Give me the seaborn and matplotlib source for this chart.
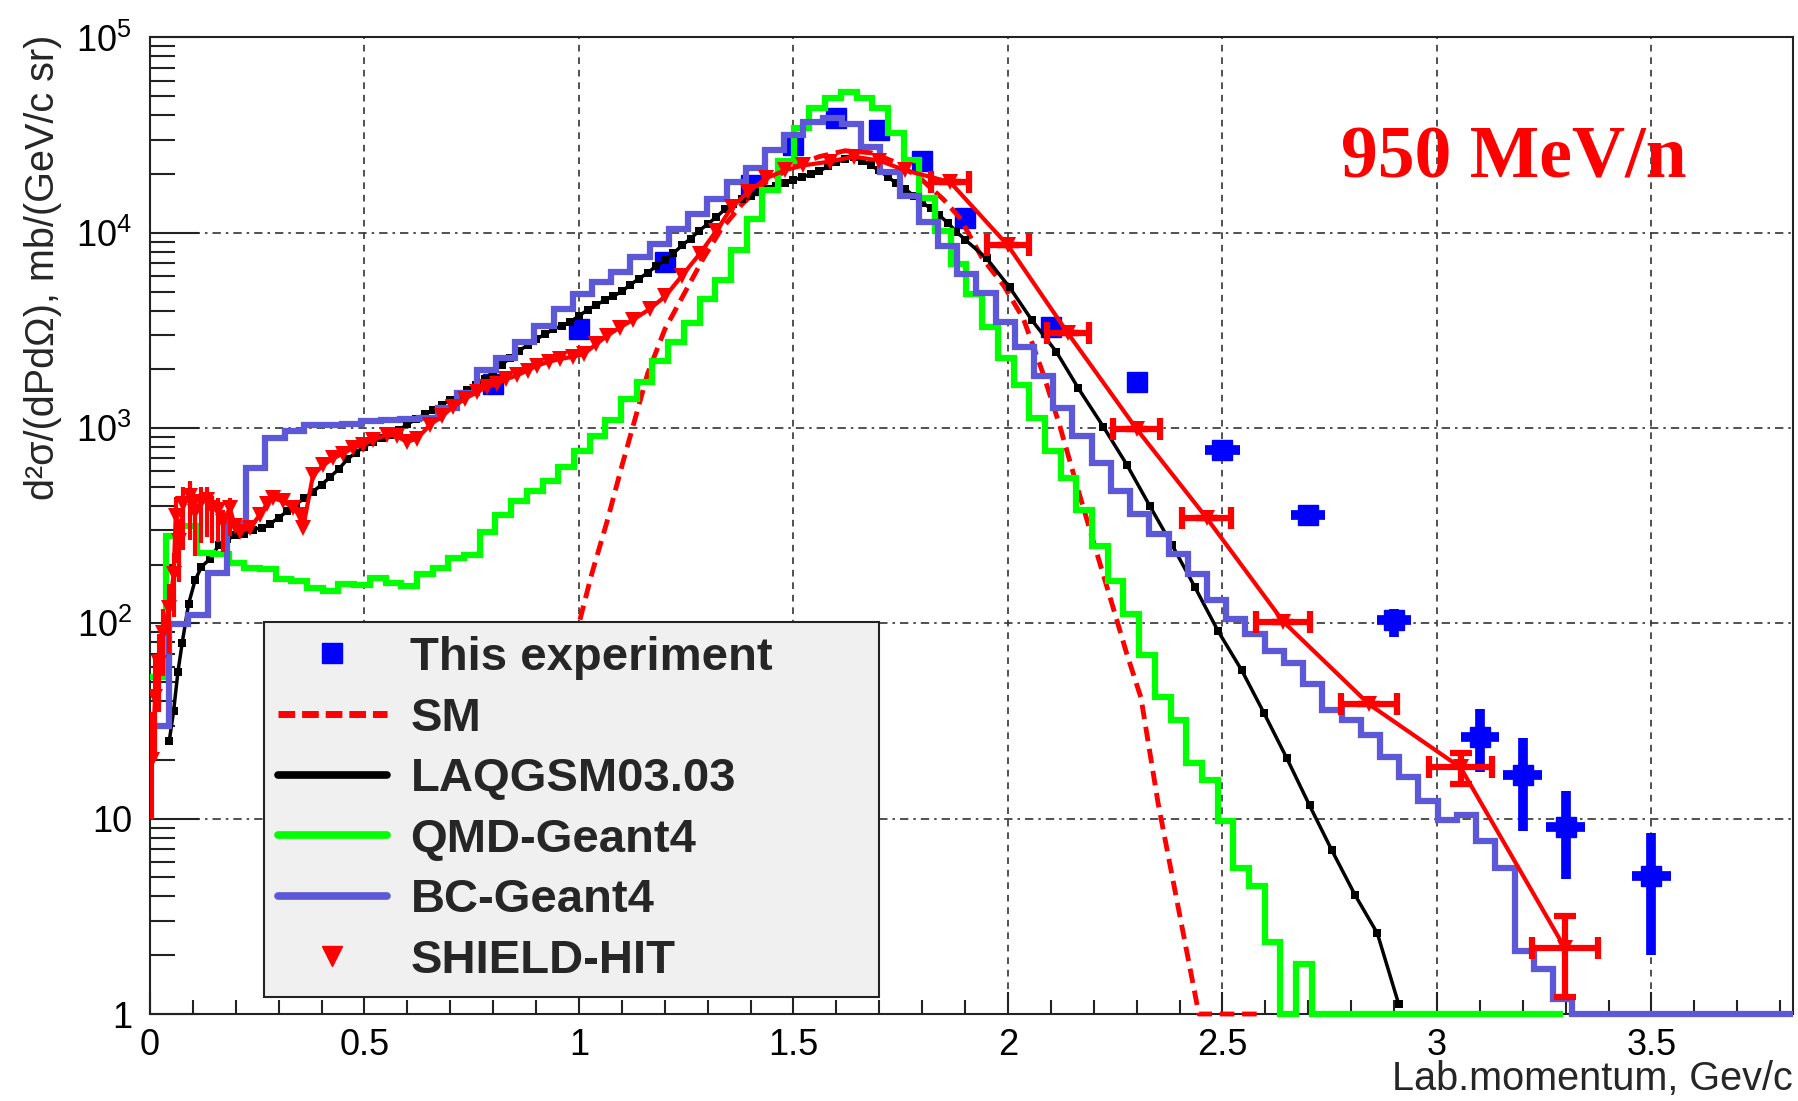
import numpy as np
import matplotlib
matplotlib.use("Agg")
import matplotlib.pyplot as plt
import seaborn as sns
from matplotlib.lines import Line2D
from matplotlib.ticker import FixedLocator, NullFormatter

# ---------------- data ----------------
# This experiment
exp_p = [0.8, 1.0, 1.2, 1.4, 1.5, 1.6, 1.7, 1.8, 1.9, 2.1, 2.3, 2.5, 2.7, 2.9, 3.1, 3.2, 3.3, 3.5]
exp_sigma = [1690, 3200, 7080, 17600, 28200, 38500, 33500, 23200, 11900, 3300, 1730,
             775, 360, 104, 26.3, 16.8, 9.1, 5.1]
exp_err_lo = [0] * 11 + [25, 14, 19, 8.9, 8.2, 4.2, 3.1]
exp_err_hi = [0] * 11 + [25, 14, 15, 10.3, 9.0, 4.7, 3.3]
exp_perr = [0] * 11 + [0.04, 0.04, 0.04, 0.045, 0.045, 0.045, 0.045]

# SM (statistical model)
sm_p = [0.93, 0.97, 1.00, 1.03, 1.065, 1.10, 1.13, 1.16, 1.20, 1.25, 1.29, 1.33, 1.38, 1.43,
        1.50, 1.56, 1.62, 1.68, 1.74, 1.80, 1.85, 1.888, 1.94, 1.99, 2.036, 2.083, 2.12,
        2.16, 2.199, 2.238, 2.277, 2.31, 2.35, 2.40, 2.445, 2.50, 2.55, 2.59]
sm_sigma = [22.4, 50, 100, 180, 330, 640, 1100, 1900, 3200, 5100, 7400, 10300, 14000, 17783,
            21878, 24547, 26303, 25704, 22909, 18621, 14791, 11912, 7413, 5370, 3631, 1871, 1040,
            513, 263, 136, 69.8, 41.7, 12.0, 3.24, 1.0, 0, 0, 0]

# LAQGSM03.03
laq_p = [0.045, 0.055, 0.065, 0.075, 0.09, 0.105, 0.12, 0.14, 0.16, 0.18, 0.20, 0.22, 0.24, 0.26,
         0.28, 0.30, 0.32, 0.34, 0.36, 0.38, 0.40, 0.42, 0.44, 0.46, 0.48, 0.50, 0.52, 0.54,
         0.56, 0.58, 0.60, 0.62, 0.64, 0.66, 0.68, 0.70, 0.72, 0.74, 0.76, 0.78, 0.80, 0.82,
         0.84, 0.86, 0.88, 0.90, 0.92, 0.94, 0.96, 0.98, 1.00, 1.02, 1.04, 1.06, 1.08, 1.10,
         1.12, 1.14, 1.16, 1.18, 1.20, 1.22, 1.24, 1.26, 1.28, 1.30, 1.32, 1.34, 1.36, 1.38,
         1.40, 1.42, 1.44, 1.46, 1.48, 1.50, 1.52, 1.54, 1.56, 1.58, 1.60, 1.62, 1.64, 1.66,
         1.68, 1.70, 1.72, 1.74, 1.76, 1.78, 1.80, 1.82, 1.84, 1.86, 1.88, 1.90, 1.95, 2.004,
         2.055, 2.113, 2.164, 2.222, 2.277, 2.331, 2.383, 2.436, 2.49, 2.545, 2.597, 2.65,
         2.703, 2.755, 2.809, 2.861, 2.911]
laq_sigma = [25.1, 35.5, 56.2, 79.4, 126, 166, 195, 214, 251, 269, 282, 288, 302, 309,
             324, 347, 376, 407, 437, 473, 513, 562, 617, 692, 750, 804, 851, 891,
             923, 977, 1047, 1109, 1175, 1245, 1318, 1396, 1479, 1567, 1660, 1778, 1950, 2113,
             2291, 2483, 2661, 2851, 3020, 3199, 3350, 3508, 3758, 4027, 4266, 4519, 4732, 5012,
             5433, 5821, 6237, 6761, 7244, 7852, 8610, 9333, 10233, 11092, 12023, 13183, 14125, 14962,
             15488, 16218, 16788, 17378, 17989, 18621, 19275, 19953, 20654, 21878, 22909, 23988, 24547, 23442,
             22131, 20893, 19275, 17989, 16788, 15488, 14289, 13335, 12303, 11220, 10116, 9226, 7413, 5248,
             3589, 2455, 1600, 1019, 650, 398, 251, 153, 91.2, 57.5, 34.7, 20.4,
             11.7, 6.89, 4.07, 2.59, 1.12]

# QMD-Geant4 histogram (uniform bins starting at 0)
qmd_bin_width = 0.0366
qmd_counts = [53, 279, 314, 230, 226, 204, 193, 189, 168, 165,
              152, 146, 159, 158, 171, 161, 155, 178, 193, 217,
              225, 295, 360, 422, 474, 537, 631, 759, 912, 1096,
              1413, 1722, 2218, 2754, 3467, 4571, 5754, 8128, 11750, 16600,
              23400, 34300, 43400, 48800, 52700, 48800, 43400, 32400, 23700, 15100,
              10200, 6900, 4850, 3310, 2290, 1660, 1120, 759, 556, 383,
              249, 165, 112, 69, 42, 32, 19.3, 15.8, 9.7, 5.6,
              4.5, 2.35, 0, 1.8, 0, 0, 0, 0, 0, 0,
              0, 0, 0, 0, 0, 0, 0, 0, 0, 0]

# BC-Geant4 histogram (uniform bins starting at 0)
bc_bin_width = 0.0448
bc_counts = [30, 99, 110, 182, 322, 627, 890, 964, 1040, 1040,
             1050, 1085, 1100, 1110, 1120, 1260, 1510, 1990, 2290, 2770,
             3320, 4090, 4880, 5600, 6300, 7500, 8770, 10500, 12500, 14900,
             18100, 21500, 26500, 31700, 37000, 38500, 36000, 27400, 20600, 15400,
             11400, 8600, 6150, 4900, 3500, 2600, 1840, 1260, 906, 663,
             475, 362, 286, 226, 179, 131, 105, 88, 72, 63,
             49, 36, 32, 26.8, 20.8, 16.4, 12.3, 9.9, 10.5, 7.7,
             5.6, 2.1, 1.7, 1.2, 0, 0, 0, 0, 0, 0,
             0, 0, 0, 0, 0, 0]

# SHIELD-HIT
sh_p = [0.005, 0.012, 0.02, 0.03, 0.045, 0.055, 0.06, 0.068, 0.078, 0.093, 0.105, 0.118,
        0.132, 0.144, 0.159, 0.171, 0.186, 0.198, 0.21, 0.233, 0.256, 0.272, 0.287, 0.311,
        0.334, 0.349, 0.357, 0.38, 0.404, 0.427, 0.45, 0.474, 0.497, 0.52, 0.552, 0.575,
        0.598, 0.622, 0.653, 0.68, 0.707, 0.735, 0.762, 0.785, 0.808, 0.83, 0.855, 0.88,
        0.902, 0.93, 0.956, 0.985, 1.011, 1.04, 1.065, 1.095, 1.127, 1.165, 1.201, 1.24,
        1.282, 1.32, 1.356, 1.395, 1.437, 1.48, 1.523, 1.585, 1.64, 1.70, 1.76,
        1.865, 2.0, 2.14, 2.30, 2.463, 2.642, 2.842, 3.055, 3.298]
sh_sigma = [20, 42, 63, 89, 120, 178, 355, 263, 407, 447, 372, 417,
            427, 389, 380, 331, 389, 316, 295, 309, 359, 407, 437, 422,
            389, 359, 309, 575, 646, 700, 741, 794, 822, 871, 923, 912,
            851, 881, 1040, 1148, 1288, 1413, 1531, 1622, 1690, 1778, 1862, 1972,
            2089, 2188, 2259, 2317, 2393, 2692, 2965, 3273, 3597, 4074, 4732, 6026,
            7834, 10233, 13490, 16218, 19055, 20893, 22131, 23174, 24547, 23442, 20893,
            18197, 8610, 3055, 989, 347, 102, 38.5, 18.3, 2.18]
sh_err_lo = [10, 22, 28, 35, 50, 70, 150, 100, 170, 180, 150, 160, 150, 130, 120, 100, 110] \
    + [0] * 61 + [3.2, 0.96]
sh_err_hi = [15, 28, 25, 30, 40, 50, 90, 80, 90, 90, 80, 80, 70, 60, 60, 50, 50] \
    + [0] * 61 + [3.3, 1.0]
sh_perr = [0] * 71 + [0.045, 0.048, 0.05, 0.055, 0.058, 0.063, 0.065, 0.073, 0.077]

# ---------------- styling ----------------
sns.set_theme(style="ticks")
plt.rcParams["font.family"] = ["Liberation Sans", "DejaVu Sans"]
plt.rcParams["mathtext.default"] = "regular"

C_EXP = "#0000ff"
C_RED = "#ff0000"
C_GREEN = "#00ff00"
C_BC = "#5c58d8"

X_MAX = 3.83

fig = plt.figure(figsize=(17.99, 11.01), dpi=100)
ax = fig.add_axes([150 / 1799, 87 / 1101, 1643 / 1799, 976.5 / 1101])
ax.set_facecolor("white")

# experimental points
ax.errorbar(exp_p, exp_sigma, yerr=[exp_err_lo, exp_err_hi], xerr=exp_perr,
            fmt="s", ms=14, color=C_EXP, mec=C_EXP, ecolor=C_EXP,
            elinewidth=7, capsize=0, zorder=3)

# SM
sm_plot = np.clip(np.asarray(sm_sigma, float), 1.0, None)
sns.lineplot(x=sm_p, y=sm_plot, ax=ax, color=C_RED, lw=3.5, sort=False, estimator=None,
             legend=False, zorder=4, clip_on=False)
ax.lines[-1].set_linestyle((0, (3.0, 1.6)))

# LAQGSM
sns.lineplot(x=laq_p, y=laq_sigma, ax=ax, color="black", lw=2.5, marker="s", ms=5.5,
             mec="black", mew=0, sort=False, estimator=None, legend=False, zorder=5)

# QMD-Geant4 histogram
qmd_edges = np.arange(len(qmd_counts) + 1) * qmd_bin_width
ax.stairs(np.clip(np.asarray(qmd_counts, float), 1.0, None), qmd_edges, baseline=None,
          color=C_GREEN, lw=4.5, zorder=6, clip_on=False)

# BC-Geant4 histogram
bc_edges = np.minimum(np.arange(len(bc_counts) + 1) * bc_bin_width, X_MAX)
ax.stairs(np.clip(np.asarray(bc_counts, float), 1.0, None), bc_edges, baseline=None,
          color=C_BC, lw=4.5, zorder=7, clip_on=False)

# SHIELD-HIT
sns.lineplot(x=sh_p, y=sh_sigma, ax=ax, color=C_RED, lw=3, marker="v", ms=11,
             mec=C_RED, mew=0, sort=False, estimator=None, legend=False, zorder=8)
sh_p_a = np.asarray(sh_p)
sh_s_a = np.asarray(sh_sigma)
lo = np.asarray(sh_err_lo, float)
hi = np.asarray(sh_err_hi, float)
px = np.asarray(sh_perr, float)
low_idx = np.where((lo > 0) & (px == 0))[0]
ax.errorbar(sh_p_a[low_idx], sh_s_a[low_idx], yerr=[lo[low_idx], hi[low_idx]], fmt="none",
            ecolor=C_RED, elinewidth=3, capsize=0, zorder=8)
tail_idx = np.where(px > 0)[0]
ax.errorbar(sh_p_a[tail_idx], sh_s_a[tail_idx], yerr=[lo[tail_idx], hi[tail_idx]],
            xerr=px[tail_idx], fmt="none", ecolor=C_RED, elinewidth=4.5, capsize=8,
            capthick=4.5, zorder=8)

# ---------------- axes ----------------
ax.set_yscale("log")
ax.set_xlim(0, X_MAX)
ax.set_ylim(1, 1e5)

ax.set_yticks([1, 10, 100, 1e3, 1e4, 1e5])
ax.set_yticklabels(["1", "10", "$10^{2}$", "$10^{3}$", "$10^{4}$", "$10^{5}$"])
ax.yaxis.set_minor_locator(FixedLocator(
    [m * 10 ** d for d in range(0, 5) for m in range(2, 10)]))
ax.yaxis.set_minor_formatter(NullFormatter())

ax.set_xticks([0, 0.5, 1, 1.5, 2, 2.5, 3, 3.5])
ax.set_xticklabels(["0", "0.5", "1", "1.5", "2", "2.5", "3", "3.5"])
ax.xaxis.set_minor_locator(FixedLocator([i / 10 for i in range(0, 39)]))

ax.tick_params(axis="y", which="major", direction="in", length=35, width=1.5,
               labelsize=26, pad=13, colors="#222222", labelcolor="black")
ax.tick_params(axis="y", which="minor", direction="in", length=18, width=1.5, colors="#222222")
ax.tick_params(axis="x", which="major", direction="in", length=16, width=1.5,
               labelsize=26, pad=10, colors="#222222", labelcolor="black")
ax.tick_params(axis="x", which="minor", direction="in", length=10, width=1.5, colors="#222222")
ax.tick_params(top=False, right=False, which="both")

for s in ax.spines.values():
    s.set_linewidth(1.5)
    s.set_color("#222222")
    s.set_visible(True)

ax.set_axisbelow(True)
ax.yaxis.grid(True, which="major", ls=(0, (5, 3, 1.5, 3)), color="#333333", lw=1.2)
ax.xaxis.grid(True, which="major", ls=(0, (4, 3.5)), color="#333333", lw=1.2)
ax.yaxis.grid(False, which="minor")

# ---------------- legend ----------------
handles = [
    Line2D([], [], ls="none", marker="s", ms=14, color=C_EXP, mec=C_EXP),
    Line2D([], [], color=C_RED, lw=5, ls=(0, (2.4, 1.0))),
    Line2D([], [], color="black", lw=5.5),
    Line2D([], [], color=C_GREEN, lw=5.5),
    Line2D([], [], color=C_BC, lw=5.5),
    Line2D([], [], ls="none", marker="v", ms=14, color=C_RED, mec=C_RED),
]
labels = ["This experiment", "SM", "LAQGSM03.03", "QMD-Geant4", "BC-Geant4", "SHIELD-HIT"]
leg = ax.legend(handles, labels, loc="upper left",
                bbox_to_anchor=(0.0694, 0.0246, 0.3746, 0.377), mode="expand",
                frameon=True, fancybox=False, edgecolor="#222222", facecolor="#f0f0f0",
                framealpha=1, prop=dict(family="Liberation Sans", weight="bold", size=34),
                handlelength=2.3, handletextpad=0.5, labelspacing=0.35, borderpad=0.3,
                borderaxespad=0)
leg.get_frame().set_linewidth(1.5)
leg.set_zorder(20)

# ---------------- texts ----------------
ax.text(0.7247, 0.8566, "950 MeV/n", transform=ax.transAxes, color=C_RED, fontsize=53,
        fontweight="bold", family="Liberation Serif", ha="left", va="baseline", zorder=21)
fig.text(1793 / 1799, 1 - 1079 / 1101, "Lab.momentum, Gev/c", ha="right", va="center",
         fontsize=28.5)
fig.text(43 / 1799, 1 - 35 / 1101, "d²σ/(dPdΩ), mb/(GeV/c sr)", rotation=90,
         ha="center", va="top", fontsize=28.5)

fig.savefig("out.png", dpi=100, facecolor="white")
